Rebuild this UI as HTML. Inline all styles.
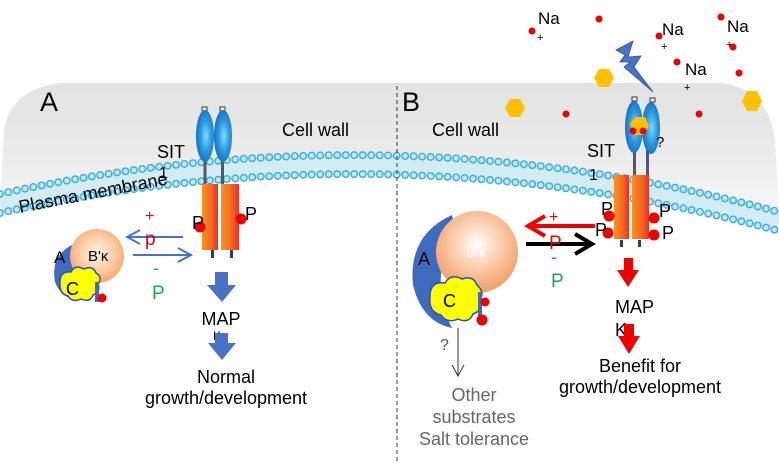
<!DOCTYPE html>
<html><head><meta charset="utf-8"><style>
html,body{margin:0;padding:0;background:#fff}
svg{display:block}
text{font-family:"Liberation Sans",Arial,sans-serif}
</style></head><body>
<svg width="779" height="468" viewBox="0 0 779 468" xmlns="http://www.w3.org/2000/svg">
<defs>
<linearGradient id="wall" x1="0" y1="0" x2="0" y2="1">
<stop offset="0" stop-color="#e2e2e2"/><stop offset="0.6" stop-color="#ececec"/><stop offset="1" stop-color="#f8f8f8"/>
</linearGradient>
<radialGradient id="ell" cx="0.55" cy="0.5" r="0.6">
<stop offset="0" stop-color="#7fd8ff"/><stop offset="0.5" stop-color="#2a9be0"/><stop offset="1" stop-color="#1565b8"/>
</radialGradient>
<linearGradient id="org" x1="0" y1="0" x2="1" y2="0">
<stop offset="0" stop-color="#f7941d"/><stop offset="0.6" stop-color="#f26522"/><stop offset="1" stop-color="#e8302a"/>
</linearGradient>
<radialGradient id="ball" cx="0.5" cy="0.45" r="0.55">
<stop offset="0" stop-color="#fff4ea"/><stop offset="0.6" stop-color="#fccca2"/><stop offset="1" stop-color="#f5a872"/>
</radialGradient>
<radialGradient id="ballB" cx="0.5" cy="0.4" r="0.55">
<stop offset="0" stop-color="#ffffff"/><stop offset="0.5" stop-color="#fcd0b0"/><stop offset="1" stop-color="#f4a470"/>
</radialGradient>
</defs>

<!-- cell wall -->
<path d="M0,205 L4,130 Q10,90 60,83 L720,83 Q768,88 775,140 L779,215 Q390,105 0,205 Z" fill="url(#wall)"/>
<!-- membrane -->
<path d="M0,203 Q390,117 779,221" fill="none" stroke="#d3ecf4" stroke-width="20"/>
<path d="M0,194 Q390,108 779,212" fill="none" stroke="#3bb0e0" stroke-width="8" stroke-dasharray="0 8.5" stroke-linecap="round"/>
<path d="M0,194 Q390,108 779,212" fill="none" stroke="#c4e8f6" stroke-width="5" stroke-dasharray="0 8.5" stroke-linecap="round"/>
<path d="M0,213 Q390,127 779,231" fill="none" stroke="#3bb0e0" stroke-width="8" stroke-dasharray="0 8.5" stroke-linecap="round"/>
<path d="M0,213 Q390,127 779,231" fill="none" stroke="#c4e8f6" stroke-width="5" stroke-dasharray="0 8.5" stroke-linecap="round"/>

<line x1="397" y1="86" x2="397" y2="462" stroke="#333" stroke-width="1" stroke-dasharray="4 3"/>

<!-- Panel A -->
<text x="40" y="111" font-size="27">A</text>
<text x="282" y="136" font-size="18">Cell wall</text>
<text x="157" y="158" font-size="18">SIT</text>
<text x="159" y="178" font-size="16">1</text>
<text x="20" y="213" font-size="18" transform="rotate(-11 20 213)">Plasma membrane</text>
<!-- receptor A -->
<rect x="202" y="107" width="5" height="4" fill="#fff" stroke="#333" stroke-width="1"/>
<rect x="220" y="107" width="5" height="4" fill="#fff" stroke="#333" stroke-width="1"/>
<rect x="203.5" y="160" width="3" height="25" fill="#556"/>
<rect x="221" y="160" width="3" height="25" fill="#556"/>
<ellipse cx="205" cy="136" rx="9" ry="26" fill="url(#ell)"/>
<ellipse cx="223" cy="136" rx="9" ry="26" fill="url(#ell)"/>
<rect x="202" y="184" width="16" height="66" fill="url(#org)"/>
<rect x="221" y="184" width="18" height="66" fill="url(#org)"/>
<rect x="211" y="250" width="3" height="8" fill="#1f3f7a"/>
<rect x="230" y="250" width="3" height="8" fill="#1f3f7a"/>
<circle cx="200" cy="227" r="5.5" fill="#e00"/>
<circle cx="241" cy="219" r="5.5" fill="#e00"/>
<text x="192" y="229" font-size="18">P</text>
<text x="245" y="220" font-size="18">P</text>
<!-- PP2A A -->
<path d="M74,244 Q50,255 55,282 Q64,305 90,298 Q70,273 80,248 Z" fill="#3f6bbf"/>
<text x="54" y="263" font-size="17">A</text>
<circle cx="97" cy="256" r="27" fill="url(#ball)"/>
<text x="88" y="261" font-size="15">B'κ</text>
<path d="M60,282 q0,-11 11,-10 q4,-8 13,-3 q9,-4 12,4 q7,4 2,11 q3,8 -5,11 q-3,8 -12,4 q-9,4 -13,-3 q-9,-2 -8,-14 Z" fill="#ffff00" stroke="#2b4fb8" stroke-width="1.5"/>
<text x="66" y="295" font-size="18">C</text>
<rect x="95" y="282" width="4" height="20" fill="#3f6bbf"/>
<circle cx="102" cy="298" r="4.5" fill="#e00"/>
<!-- arrows A -->
<line x1="183" y1="237" x2="128" y2="237" stroke="#4a72c4" stroke-width="2"/>
<polyline points="140,230 127,237 140,244" fill="none" stroke="#4a72c4" stroke-width="2"/>
<line x1="133" y1="255" x2="190" y2="255" stroke="#4a72c4" stroke-width="2"/>
<polyline points="178,248 191,255 178,262" fill="none" stroke="#4a72c4" stroke-width="2"/>
<text x="145" y="221" font-size="16" fill="#e00">+</text>
<text x="145" y="245" font-size="19" fill="#e00">p</text>
<text x="153" y="274" font-size="18" fill="#1aaa50">-</text>
<text x="152" y="299" font-size="19" fill="#1aaa50">P</text>
<polygon points="215,272 228,272 228,285 236,285 222,302 207,285 215,285" fill="#4a72c4"/>
<text x="221" y="325" font-size="18" text-anchor="middle">MAP</text>
<text x="213" y="340" font-size="12">K</text>
<polygon points="215,333 228,333 228,343 236,343 222,360 208,343 215,343" fill="#4a72c4"/>
<text x="226" y="383" font-size="18" text-anchor="middle">Normal</text>
<text x="226" y="404" font-size="18" text-anchor="middle">growth/development</text>

<!-- Panel B -->
<text x="402" y="111" font-size="27">B</text>
<text x="432" y="136" font-size="18">Cell wall</text>
<text x="587" y="157" font-size="18">SIT</text>
<text x="589" y="180" font-size="16">1</text>
<!-- Na+ -->
<circle cx="532" cy="31" r="3.5" fill="#e00"/><text x="538" y="24" font-size="17">Na</text><text x="537" y="41" font-size="11">+</text>
<circle cx="599" cy="19" r="3.5" fill="#e00"/>
<circle cx="659" cy="36" r="3.5" fill="#e00"/><text x="662" y="35" font-size="17">Na</text><text x="661" y="50" font-size="11">+</text>
<circle cx="721" cy="17" r="3.5" fill="#e00"/><text x="727" y="32" font-size="17">Na</text><text x="726" y="48" font-size="11">+</text>
<circle cx="733" cy="47" r="3.5" fill="#e00"/>
<circle cx="677" cy="62" r="3.5" fill="#e00"/><text x="685" y="75" font-size="17">Na</text><text x="684" y="91" font-size="11">+</text>
<circle cx="739" cy="73" r="3.5" fill="#e00"/>
<circle cx="566" cy="114" r="3.5" fill="#e00"/>
<circle cx="699" cy="114" r="3.5" fill="#e00"/>
<!-- lightning -->
<polygon points="616,50 633,41 628,57 641,56 634,67 653,92 624,67 630,62 620,62 625,55" fill="#4a72c4" stroke="#2b4f9a" stroke-width="0.8"/>
<!-- hexagons -->
<polygon points="594,78 599,69 609,69 614,78 609,87 599,87" fill="#ffc000"/>
<polygon points="505,108 510,99 520,99 525,108 520,117 510,117" fill="#ffc000"/>
<polygon points="742,101 747,91 757,91 762,101 757,111 747,111" fill="#ffc000"/>
<!-- receptor B -->
<rect x="632" y="97" width="5" height="4" fill="#fff" stroke="#333" stroke-width="1"/>
<rect x="650" y="98" width="5" height="4" fill="#fff" stroke="#333" stroke-width="1"/>
<rect x="633" y="150" width="3" height="27" fill="#556"/>
<rect x="646" y="150" width="3" height="27" fill="#556"/>
<ellipse cx="634" cy="127" rx="9" ry="26" fill="url(#ell)"/>
<ellipse cx="651" cy="128" rx="9" ry="26" fill="url(#ell)"/>
<polygon points="630,124 635,117 645,117 649,126 644,135 635,135" fill="#ffc000"/>
<circle cx="633" cy="131" r="3.5" fill="#e00"/>
<circle cx="643" cy="131" r="3.5" fill="#e00"/>
<text x="656" y="147" font-size="15">?</text>
<rect x="614" y="175" width="15" height="64" fill="url(#org)"/>
<rect x="632" y="175" width="17" height="64" fill="url(#org)"/>
<rect x="620" y="240" width="3" height="7" fill="#1f3f7a"/>
<rect x="638" y="240" width="3" height="7" fill="#1f3f7a"/>
<circle cx="609" cy="216" r="5.5" fill="#e00"/>
<circle cx="608" cy="233" r="5.5" fill="#e00"/>
<circle cx="654" cy="218" r="5.5" fill="#e00"/>
<circle cx="654" cy="235" r="5.5" fill="#e00"/>
<text x="601" y="215" font-size="18">P</text>
<text x="595" y="236" font-size="18">P</text>
<text x="659" y="217" font-size="18">P</text>
<text x="662" y="239" font-size="18">P</text>
<!-- PP2A B -->
<path d="M452,215 Q408,235 413,285 Q422,322 452,328 Q428,280 455,228 Z" fill="#3f6bbf"/>
<text x="418" y="265" font-size="18">A</text>
<circle cx="477" cy="252" r="41" fill="url(#ballB)"/>
<text x="466" y="257" font-size="15" fill="#fff">B'κ</text>
<path d="M430,296 q0,-15 15,-13 q6,-10 17,-4 q11,-4 15,6 q8,7 3,15 q4,10 -7,14 q-4,10 -15,5 q-11,5 -17,-4 q-13,-3 -11,-19 Z" fill="#ffff00" stroke="#2b4fb8" stroke-width="1.5"/>
<text x="443" y="307" font-size="18">C</text>
<rect x="478" y="292" width="4" height="28" fill="#3f6bbf"/>
<circle cx="485" cy="302" r="4.5" fill="#e00"/>
<circle cx="482" cy="320" r="5.5" fill="#e00"/>
<line x1="458" y1="328" x2="458" y2="375" stroke="#333" stroke-width="1"/>
<polyline points="452,365 458,376 464,365" fill="none" stroke="#333" stroke-width="1"/>
<text x="440" y="350" font-size="16" fill="#555">?</text>
<text x="474" y="401" font-size="18" fill="#666" text-anchor="middle">Other</text>
<text x="474" y="423" font-size="18" fill="#666" text-anchor="middle">substrates</text>
<text x="474" y="445" font-size="18" fill="#666" text-anchor="middle">Salt tolerance</text>
<!-- arrows B -->
<line x1="595" y1="226" x2="530" y2="226" stroke="#e00" stroke-width="4"/>
<polyline points="545,216 528,226 545,236" fill="none" stroke="#e00" stroke-width="4"/>
<line x1="526" y1="244" x2="590" y2="244" stroke="#000" stroke-width="4"/>
<polyline points="575,234 592,244 575,254" fill="none" stroke="#000" stroke-width="4"/>
<text x="549" y="222" font-size="16" fill="#e00">+</text>
<text x="549" y="249" font-size="19" fill="#e00">P</text>
<text x="551" y="263" font-size="18" fill="#1aaa50">-</text>
<text x="551" y="287" font-size="19" fill="#1aaa50">P</text>
<polygon points="624,258 633,258 633,270 639,270 628,287 617,270 624,270" fill="#e00"/>
<text x="615" y="313" font-size="18">MAP</text>
<text x="615" y="336" font-size="18">K</text>
<polygon points="624,324 634,324 634,336 640,336 629,354 618,336 624,336" fill="#e00"/>
<text x="640" y="372" font-size="18" text-anchor="middle">Benefit for</text>
<text x="640" y="393" font-size="18" text-anchor="middle">growth/development</text>
</svg>
</body></html>
